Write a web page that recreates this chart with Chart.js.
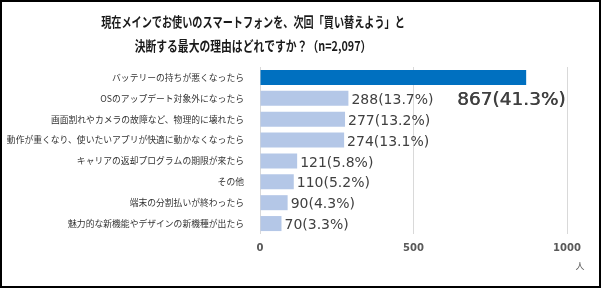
<!DOCTYPE html>
<html>
<head>
<meta charset="utf-8">
<script src="https://cdn.jsdelivr.net/npm/chart.js@4"></script>
<style>
html,body{margin:0;padding:0;background:#fff;}
#wrap{width:601px;height:288px;position:relative;}
</style>
</head>
<body>
<div id="wrap"><canvas id="c" width="601" height="288"></canvas></div>
<script>
const titleLines = ["現在メインでお使いのスマートフォンを、次回「買い替えよう」と", "決断する最大の理由はどれですか？（n=2,097）"];
const categories = [
  "バッテリーの持ちが悪くなったら",
  "OSのアップデート対象外になったら",
  "画面割れやカメラの故障など、物理的に壊れたら",
  "動作が重くなり、使いたいアプリが快適に動かなくなったら",
  "キャリアの返却プログラムの期限が来たら",
  "その他",
  "端末の分割払いが終わったら",
  "魅力的な新機能やデザインの新機種が出たら"
];
const values = [867, 288, 277, 274, 121, 110, 90, 70];
const percents = ["41.3", "13.7", "13.2", "13.1", "5.8", "5.2", "4.3", "3.3"];
const xTicks = [0, 500, 1000];
const unitLabel = "人";

const barColors = values.map((v, i) => i === 0 ? "#0070C0" : "#B4C7E7");

const decor = {
  id: "decor",
  afterDatasetsDraw(chart) {
    const ctx = chart.ctx;
    const meta = chart.getDatasetMeta(0);
    ctx.save();
    ctx.fillStyle = "#404040";
    ctx.textBaseline = "middle";
    meta.data.forEach((bar, i) => {
      const txt = values[i] + "(" + percents[i] + "%)";
      if (i === 0) {
        const b1 = meta.data[1];
        ctx.font = "18.5px 'DejaVu Sans'";
        ctx.textAlign = "right";
        ctx.fillText(txt, chart.chartArea.right - 1, b1.y + 2);
        ctx.fillText(txt, chart.chartArea.right - 1.5, b1.y + 2);
      } else {
        ctx.font = "14px 'DejaVu Sans'";
        ctx.textAlign = "left";
        ctx.fillText(txt, bar.x + 3, bar.y + 2);
      }
    });
    ctx.restore();
  },
  afterDraw(chart) {
    const ctx = chart.ctx;
    ctx.save();
    // title
    ctx.fillStyle = "#1a1a1a";
    ctx.textAlign = "center";
    ctx.textBaseline = "middle";
    ctx.font = "bold 13.5px 'Noto Sans CJK JP'";
    const ys = [22, 46];
    const sx = [0.75, 0.8];
    titleLines.forEach((t, i) => {
      ctx.save();
      ctx.translate(253, ys[i]);
      ctx.scale(sx[i], 1);
      ctx.fillText(t, 0, 0);
      ctx.restore();
    });
    // unit
    ctx.fillStyle = "#595959";
    ctx.font = "9px 'Noto Sans CJK JP'";
    ctx.fillText(unitLabel, chart.chartArea.right + 13, 266);
    // border
    ctx.strokeStyle = "#000";
    ctx.lineWidth = 2;
    ctx.strokeRect(1, 1, 599, 286);
    ctx.restore();
  }
};

new Chart(document.getElementById("c"), {
  type: "bar",
  data: {
    labels: categories,
    datasets: [{
      data: values,
      backgroundColor: barColors,
      borderWidth: 0,
      categoryPercentage: 1,
      barPercentage: 0.72
    }]
  },
  options: {
    indexAxis: "y",
    responsive: false,
    animation: false,
    layout: { padding: { top: 67, right: 34, left: 0, bottom: 0 } },
    plugins: { legend: { display: false }, tooltip: { enabled: false }, title: { display: false } },
    scales: {
      x: {
        min: 0, max: 1000,
        afterBuildTicks(scale) { scale.ticks = xTicks.map(v => ({ value: v })); },
        afterFit(scale) { scale.height = 54; },
        grid: { color: "#d9d9d9", drawTicks: false, lineWidth: 1 },
        border: { display: false },
        ticks: { padding: 8, color: "#595959", callback: (v) => String(v), font: { family: "DejaVu Sans", size: 10, weight: "bold" } }
      },
      y: {
        afterFit(scale) { scale.width = 260; },
        grid: { display: false },
        border: { display: false },
        ticks: { padding: 8, color: "#333333", font: { family: "Noto Sans CJK JP", size: 8.8 } }
      }
    }
  },
  plugins: [decor]
});
</script>
</body>
</html>
